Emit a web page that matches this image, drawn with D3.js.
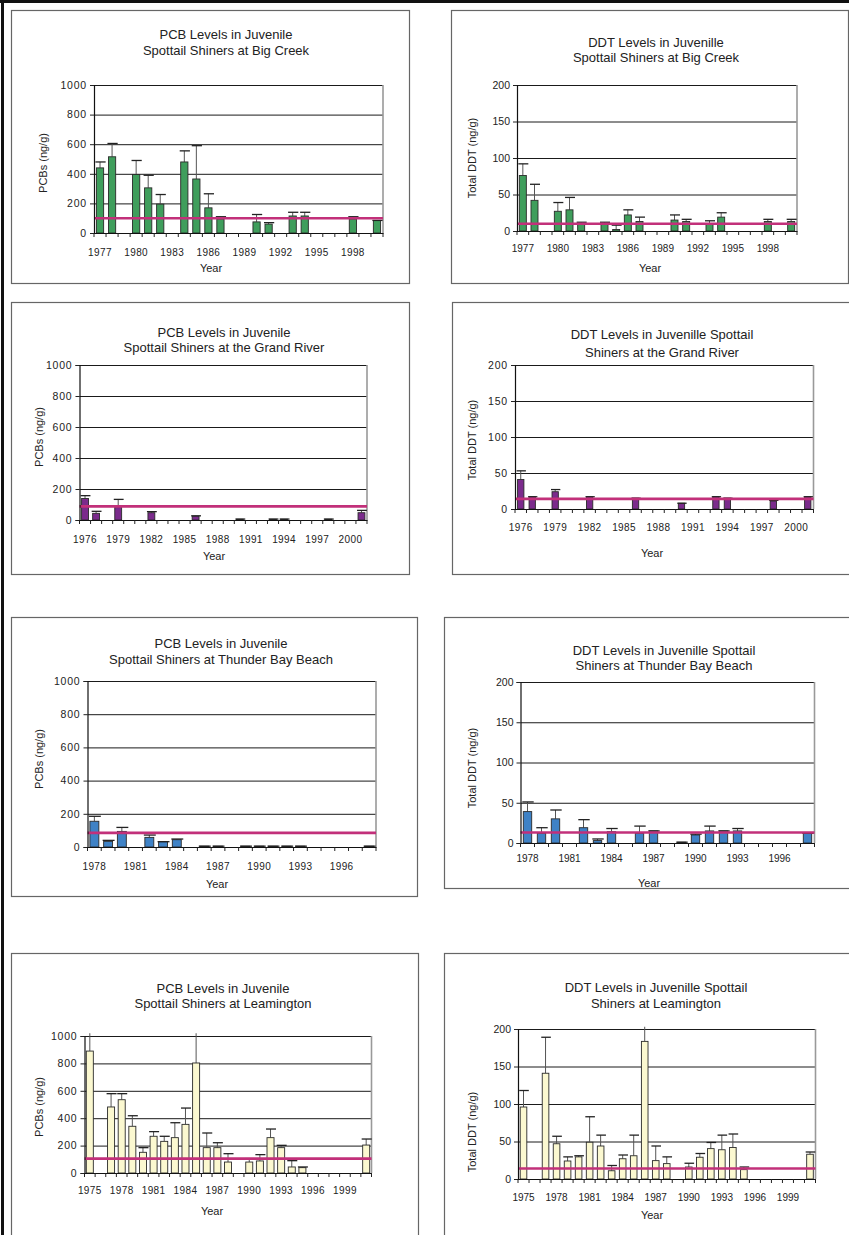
<!DOCTYPE html>
<html>
<head>
<meta charset="utf-8">
<script src="https://cdn.jsdelivr.net/npm/d3@7"></script>
<style>
  body { margin: 0; background: #fff; }
  text { font-family: "Liberation Sans", Arial, sans-serif; fill: #222; }
</style>
</head>
<body>
<script>
// ---- data (mean and mean + error) ----
// Big Creek
var bigCreekYears = [1977, 1978, 1980, 1981, 1982, 1984, 1985, 1986, 1987, 1990, 1991, 1993, 1994, 1998, 2000];
var bigCreekPcb = [440, 515, 395, 305, 195, 480, 365, 170, 95, 75, 60, 115, 115, 95, 85];
var bigCreekPcbUpper = [480, 605, 490, 390, 260, 555, 590, 265, 110, 125, 70, 140, 140, 110, 85];
var bigCreekDdt = [76, 42, 27, 29, 10, 10, 2, 22, 13, 15, 13, 10, 19, 13, 13];
var bigCreekDdtUpper = [92, 64, 39, 46, 12, 12, 8, 29, 19, 22, 16, 14, 25, 16, 16];

// Grand River
var grandYears = [1976, 1977, 1979, 1982, 1986, 1990, 1993, 1994, 1998, 2001];
var grandPcb = [139, 43, 86, 47, 25, 5, 5, 5, 5, 47];
var grandPcbUpper = [157, 56, 133, 54, 27, 6, 6, 6, 6, 62];
var grandDdt = [41, 17, 24, 17, 15, 8, 17, 15, 11, 17];
var grandDdtUpper = [53, 17, 27, 17, 15, 8, 17, 15, 12, 17];

// Thunder Bay Beach
var thunderYears = [1978, 1979, 1980, 1982, 1983, 1984, 1986, 1987, 1989, 1990, 1991, 1992, 1993, 1998];
var thunderPcb = [155, 34, 94, 58, 32, 44, 5, 5, 5, 5, 5, 5, 5, 5];
var thunderPcbUpper = [185, 40, 118, 72, 32, 48, 5, 5, 5, 5, 5, 5, 5, 5];
var thunderDdt = [39, 12, 30, 19, 3, 14, 12, 15, 1, 10, 15, 15, 15, 12];
var thunderDdtUpper = [51, 19, 41, 29, 5, 18, 21, 15, 1, 11, 21, 15, 18, 12];

// Leamington
var leamYears = [1975, 1977, 1978, 1979, 1980, 1981, 1982, 1983, 1984, 1985, 1986, 1987, 1988, 1990, 1991, 1992, 1993, 1994, 1995, 2001];
var leamPcb = [890, 482, 535, 341, 151, 268, 231, 258, 355, 803, 185, 185, 80, 80, 88, 258, 185, 44, 39, 204];
var leamPcbUpper = [1020, 579, 579, 418, 185, 302, 268, 367, 474, 1020, 292, 221, 141, 105, 134, 321, 202, 90, 44, 248];
var leamDdt = [96, 141, 47, 24, 29.5, 49, 44, 11, 27, 31, 183.5, 24.5, 20.5, 16, 29, 40.5, 39, 42, 12.5, 33];
var leamDdtUpper = [118, 189, 57, 29.5, 31, 83, 58.5, 18, 32, 58.5, 203, 44, 29.5, 21, 34, 48.7, 58.5, 60, 16, 36];

// guideline levels (the magenta lines)
var refLevels = { bigPcb: 100, bigDdt: 10, grandPcb: 88, grandDdt: 14, thunderPcb: 85, thunderDdt: 13, leamPcb: 105, leamDdt: 14 };

// x-axis labels
var ticksBig = [1977, 1980, 1983, 1986, 1989, 1992, 1995, 1998];
var ticksGrand = [1976, 1979, 1982, 1985, 1988, 1991, 1994, 1997, 2000];
var ticksThunder = [1978, 1981, 1984, 1987, 1990, 1993, 1996];
var ticksLeam = [1975, 1978, 1981, 1984, 1987, 1990, 1993, 1996, 1999];

var green = "#3f9e5c", purple = "#7b2b8c", blue = "#3f82c6", cream = "#fbf8d0";
var pcbLabel = "PCBs (ng/g)", ddtLabel = "Total DDT (ng/g)";

// ---- panel layout ----
var panels = [
  { box: [11, 10, 409, 283], plot: [94, 85, 383, 233], titleX: 226, titleY: [34, 50], tickY: 252, yearX: 211, yearY: 268, ylabX: 43, ylabY: 163,
    title: ["PCB Levels in Juvenile", "Spottail Shiners at Big Creek"], ylabel: pcbLabel, first: 1977, last: 2000, ticks: ticksBig,
    yMax: 1000, yStep: 200, years: bigCreekYears, mean: bigCreekPcb, upper: bigCreekPcbUpper, color: green, ref: refLevels.bigPcb, barFrac: 0.6, spaced: true },
  { box: [451, 10, 848, 283], plot: [517, 85, 797, 231], titleX: 656, titleY: [42, 57], tickY: 248, yearX: 650, yearY: 268, ylabX: 472, ylabY: 158,
    title: ["DDT Levels in Juvenille", "Spottail Shiners at Big Creek"], ylabel: ddtLabel, first: 1977, last: 2000, ticks: ticksBig,
    yMax: 200, yStep: 50, years: bigCreekYears, mean: bigCreekDdt, upper: bigCreekDdtUpper, color: green, ref: refLevels.bigDdt, barFrac: 0.6 },
  { box: [11, 302, 409, 574], plot: [79.5, 365, 367, 520], titleX: 224, titleY: [332, 347], tickY: 539, yearX: 214, yearY: 556, ylabX: 39, ylabY: 437,
    title: ["PCB Levels in Juvenile", "Spottail Shiners at the Grand River"], ylabel: pcbLabel, first: 1976, last: 2001, ticks: ticksGrand,
    yMax: 1000, yStep: 200, years: grandYears, mean: grandPcb, upper: grandPcbUpper, color: purple, ref: refLevels.grandPcb, barFrac: 0.62, spaced: true },
  { box: [452, 302, 860, 574], plot: [515, 365, 813.5, 509], titleX: 662, titleY: [334, 352], tickY: 527, yearX: 652, yearY: 553, ylabX: 472, ylabY: 440,
    title: ["DDT Levels in Juvenille Spottail", "Shiners at the Grand River"], ylabel: ddtLabel, first: 1976, last: 2001, ticks: ticksGrand,
    yMax: 200, yStep: 50, years: grandYears, mean: grandDdt, upper: grandDdtUpper, color: purple, ref: refLevels.grandDdt, barFrac: 0.55, spaced: true },
  { box: [11, 617, 417, 896], plot: [87.5, 681, 376, 847], titleX: 221, titleY: [643, 659], tickY: 866, yearX: 217, yearY: 884, ylabX: 39, ylabY: 759,
    title: ["PCB Levels in Juvenile", "Spottail Shiners at Thunder Bay Beach"], ylabel: pcbLabel, first: 1978, last: 1998, ticks: ticksThunder,
    yMax: 1000, yStep: 200, years: thunderYears, mean: thunderPcb, upper: thunderPcbUpper, color: blue, ref: refLevels.thunderPcb, barFrac: 0.65, spaced: true },
  { box: [444, 617, 860, 888], plot: [520.5, 682, 814.5, 843], titleX: 664, titleY: [650, 665], tickY: 858, yearX: 649, yearY: 883, ylabX: 472, ylabY: 768,
    title: ["DDT Levels in Juvenille Spottail", "Shiners at Thunder Bay Beach"], ylabel: ddtLabel, first: 1978, last: 1998, ticks: ticksThunder,
    yMax: 200, yStep: 50, years: thunderYears, mean: thunderDdt, upper: thunderDdtUpper, color: blue, ref: refLevels.thunderDdt, barFrac: 0.6 },
  { box: [11, 953, 418, 1250], plot: [84.5, 1036, 371.5, 1173], titleX: 223, titleY: [988, 1003], tickY: 1190, yearX: 212, yearY: 1211, ylabX: 39, ylabY: 1107,
    title: ["PCB Levels in Juvenile", "Spottail Shiners at Leamington"], ylabel: pcbLabel, first: 1975, last: 2001, ticks: ticksLeam,
    yMax: 1000, yStep: 200, years: leamYears, mean: leamPcb, upper: leamPcbUpper, color: cream, ref: refLevels.leamPcb, barFrac: 0.66, spaced: true },
  { box: [444, 953, 860, 1250], plot: [518, 1029, 815.5, 1179], titleX: 656, titleY: [987, 1003], tickY: 1197, yearX: 652, yearY: 1215, ylabX: 472, ylabY: 1132,
    title: ["DDT Levels in Juvenille Spottail", "Shiners at Leamington"], ylabel: ddtLabel, first: 1975, last: 2001, ticks: ticksLeam,
    yMax: 200, yStep: 50, years: leamYears, mean: leamDdt, upper: leamDdtUpper, color: cream, ref: refLevels.leamDdt, barFrac: 0.6 }
];

var svg = d3.select("body").append("svg")
    .attr("width", 849)
    .attr("height", 1235);

svg.append("rect").attr("width", 849).attr("height", 1235).attr("fill", "#fff");

panels.forEach(drawPanel);

// page frame (left and top black rules)
svg.append("line").attr("x1", 2.5).attr("x2", 2.5).attr("y1", 0).attr("y2", 1235)
    .attr("stroke", "#111").attr("stroke-width", 3);
svg.append("line").attr("x1", 0).attr("x2", 849).attr("y1", 1.5).attr("y2", 1.5)
    .attr("stroke", "#111").attr("stroke-width", 3);

function drawPanel(p) {
    var g = svg.append("g");
    var px0 = p.plot[0], py0 = p.plot[1], px1 = p.plot[2], py1 = p.plot[3];

    g.append("rect")
        .attr("x", p.box[0] + 0.5).attr("y", p.box[1] + 0.5)
        .attr("width", p.box[2] - p.box[0]).attr("height", p.box[3] - p.box[1])
        .attr("fill", "#fff").attr("stroke", "#666").attr("stroke-width", 1.2);

    var cats = d3.range(p.first, p.last + 1);
    var x = d3.scaleBand().domain(cats).range([px0, px1]);
    var y = d3.scaleLinear().domain([0, p.yMax]).range([py1, py0]);
    var yTicks = d3.range(0, p.yMax + 1, p.yStep);

    // horizontal gridlines
    g.append("g")
        .attr("transform", "translate(" + px0 + ",0)")
        .call(d3.axisLeft(y).tickValues(yTicks.slice(1)).tickSize(-(px1 - px0)).tickFormat(""))
        .call(a => a.select(".domain").remove())
        .selectAll("line").attr("stroke", "#1a1a1a").attr("stroke-width", 1);

    // grey right edge of plot area
    g.append("line").attr("x1", px1).attr("x2", px1).attr("y1", py0).attr("y2", py1)
        .attr("stroke", "#999").attr("stroke-width", 1.6);

    var rows = p.years.map((yr, i) => ({ yr: yr, v: p.mean[i], u: p.upper[i] }));
    var bw = x.bandwidth() * p.barFrac;
    var cx = d => x(d.yr) + x.bandwidth() / 2;

    // error bars (upper only)
    g.append("g").selectAll("line")
        .data(rows)
        .join("line")
        .attr("x1", cx).attr("x2", cx)
        .attr("y1", d => y(d.v)).attr("y2", d => y(d.u))
        .attr("stroke", "#555").attr("stroke-width", 1);

    // bars
    g.append("g").selectAll("rect")
        .data(rows)
        .join("rect")
        .attr("x", d => cx(d) - bw / 2)
        .attr("y", d => y(d.v))
        .attr("width", bw)
        .attr("height", d => y(0) - y(d.v))
        .attr("fill", p.color)
        .attr("stroke", "#2a2a2a").attr("stroke-width", 0.9);

    // caps
    g.append("g").selectAll("line")
        .data(rows.filter(d => d.u <= p.yMax))
        .join("line")
        .attr("x1", d => cx(d) - bw / 2 - 1).attr("x2", d => cx(d) + bw / 2 + 2)
        .attr("y1", d => y(d.u)).attr("y2", d => y(d.u))
        .attr("stroke", "#222").attr("stroke-width", 1.3);

    // guideline
    g.append("line")
        .attr("x1", px0).attr("x2", px1)
        .attr("y1", y(p.ref)).attr("y2", y(p.ref))
        .attr("stroke", "#c2307a").attr("stroke-width", 2.6);

    // x axis with labels at category centres
    var xa = g.append("g")
        .attr("transform", "translate(0," + py1 + ")")
        .call(d3.axisBottom(x).tickValues(p.ticks).tickSize(0).tickSizeOuter(0).tickPadding(p.tickY - py1 - 3.5));
    xa.select(".domain").attr("stroke", "#111").attr("stroke-width", 1.2);
    xa.selectAll("text").attr("font-size", 10).attr("font-family", null)
        .attr("letter-spacing", p.spaced ? 0.4 : 0);

    // tick marks between categories
    var bounds = cats.map(c => x(c)).concat([px1]);
    g.append("g").selectAll("line")
        .data(bounds)
        .join("line")
        .attr("x1", d => d).attr("x2", d => d)
        .attr("y1", py1).attr("y2", py1 + 4)
        .attr("stroke", "#222");

    // y axis
    var ya = g.append("g")
        .attr("transform", "translate(" + px0 + ",0)")
        .call(d3.axisLeft(y).tickValues(yTicks).tickFormat(d3.format("d")).tickSize(4).tickPadding(3));
    ya.select(".domain").attr("stroke", "#111").attr("stroke-width", 1.2);
    ya.selectAll("line").attr("stroke", "#222");
    ya.selectAll("text").attr("font-size", 10.5).attr("font-family", null)
        .attr("letter-spacing", p.spaced ? 0.8 : 0);

    // titles
    g.selectAll("text.title")
        .data(p.title)
        .join("text")
        .attr("class", "title")
        .attr("x", p.titleX)
        .attr("y", (d, i) => p.titleY[i])
        .attr("dy", "0.35em")
        .attr("text-anchor", "middle")
        .attr("font-size", 13)
        .text(d => d);

    g.append("text")
        .attr("x", p.yearX).attr("y", p.yearY).attr("dy", "0.35em")
        .attr("text-anchor", "middle").attr("font-size", 11)
        .text("Year");

    g.append("text")
        .attr("transform", "translate(" + p.ylabX + "," + p.ylabY + ") rotate(-90)")
        .attr("dy", "0.35em")
        .attr("text-anchor", "middle").attr("font-size", 11)
        .text(p.ylabel);
}
</script>
</body>
</html>
